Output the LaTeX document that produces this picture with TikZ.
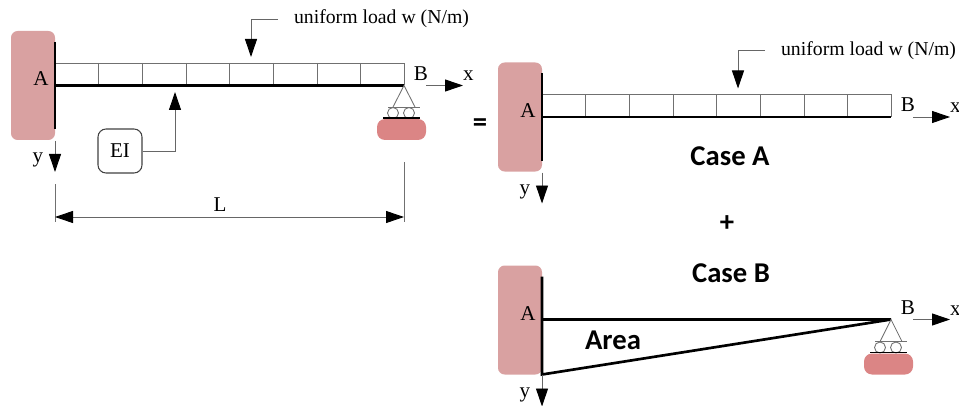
\documentclass[tikz,border=0pt]{standalone}
\usepackage{fontspec}
\setmainfont{Liberation Serif}
\newfontfamily\casefont{Carlito}
\usetikzlibrary{arrows.meta}

\definecolor{wallred}{HTML}{D9A1A1}
\definecolor{padred}{HTML}{DB8585}
\definecolor{linegray}{HTML}{707070}

\tikzset{
  serif/.style={inner sep=0pt, font=\fontsize{14.8}{16}\selectfont},
  letter/.style={inner sep=0pt, font=\fontsize{15.8}{17}\selectfont},
  casetext/.style={inner sep=0pt, font=\casefont\bfseries\fontsize{21.5}{24}\selectfont},
  wall/.style={fill=wallred, rounded corners=5pt},
  pad/.style={fill=padred, rounded corners=6pt},
  thickbar/.style={line width=2pt, black},
  thinbar/.style={line width=0.65pt, linegray},
  bigtip/.tip={Triangle[length=13.5pt,width=9pt,color=black,fill=black]},
  bigarrow/.style={line width=0.7pt, black!60, -{bigtip}},
}

\begin{document}
\begin{tikzpicture}[x=0.75pt, y=-0.75pt]
  \useasboundingbox (0,0) rectangle (959,406);

  % Full beam
  \begin{scope}[shift={(0,0)}]
    \fill[wall] (11,31) rectangle (55,140);
    \fill[pad] (377,119) rectangle (426,140);

    \coordinate (top) at (55,42);
    \coordinate (bot) at (55,129);
    \coordinate (fix) at (55,85.5);
    \coordinate (end) at (404,85.5);
    \coordinate (loadA) at (55,63);
    \coordinate (loadB) at (404,63);

    \node[letter] (a) at (41,79) {A};
    \node[letter] (b) at (421,73.5) {B};
    \node[letter] (x) at (468.5,76) {x};
    \node[letter] (y) at (38,160) {y};
    \node[serif] (w) at (381.5,19) {uniform load w (N/m)};
    \node[letter, draw=black!75, line width=0.8pt, rounded corners=6pt, minimum size=33pt] (ei) at (120,151) {EI};
    \node[letter] (l) at (220,205) {L};

    % load blocks
    \draw[thinbar] (fix) -- (loadA) -- (loadB) -- (end);
    \draw[thinbar] (98,63) -- (98,85) (142,63) -- (142,85) (186,63) -- (186,85) (229,63) -- (229,85);
    \draw[thinbar] (273,63) -- (273,85) (317,63) -- (317,85) (360,63) -- (360,85);

    \draw[thickbar] (top) -- (bot);
    \draw[thickbar] (fix) -- (end);

    % roller
    \coordinate (baseL) at (388,107);
    \coordinate (baseR) at (420,107);
    \draw[thinbar] (baseL) -- (baseR);
    \draw[thinbar] (393,107) -- (end) -- (415,107);
    \draw[thinbar] (393,113) circle (5.5);
    \draw[thinbar] (409,113) circle (5.5);
    \coordinate (gndL) at (383,118);
    \coordinate (gndR) at (420,118);
    \draw[thickbar, line width=1.2pt] (gndL) -- (gndR);

    % arrows
    \coordinate (xA) at (426,85.5);
    \coordinate (xB) at (463,85.5);
    \coordinate (yA) at (55,141);
    \coordinate (yB) at (55,172);
    \coordinate (loadS) at (278,19);
    \coordinate (loadE) at (251,57);
    \coordinate (eiE) at (175,92);
    \draw[bigarrow] (xA) -- (xB);
    \draw[bigarrow] (yA) -- (yB);
    \draw[bigarrow] (loadS) -| (loadE);
    \draw[bigarrow] (ei) -| (eiE);

    % dimension L
    \coordinate (dimA) at (55,184);
    \coordinate (dimB) at (55,222);
    \coordinate (dimC) at (404,162);
    \coordinate (dimD) at (404,222);
    \coordinate (dimL) at (55,217);
    \coordinate (dimR) at (404,217);
    \draw[thinbar] (dimA) -- (dimB);
    \draw[thinbar] (dimC) -- (dimD);
    \draw[bigarrow, {bigtip}-{bigtip}] (dimL) -- (dimR);
  \end{scope}

  \node[casetext] (eq) at (480,125) {=};

  % Case A
  \begin{scope}[shift={(487,31.5)}]
    \fill[wall] (11,31) rectangle (55,140);

    \coordinate (top) at (55,42);
    \coordinate (bot) at (55,129);
    \coordinate (fix) at (55,85.5);
    \coordinate (end) at (404,85.5);
    \coordinate (loadA) at (55,63);
    \coordinate (loadB) at (404,63);

    \node[letter] (a) at (41,79) {A};
    \node[letter] (b) at (421,73.5) {B};
    \node[letter] (x) at (468.5,76) {x};
    \node[letter] (y) at (38,160) {y};
    \node[serif] (w) at (381.5,19) {uniform load w (N/m)};

    \draw[thinbar] (fix) -- (loadA) -- (loadB) -- (end);
    \draw[thinbar] (98,63) -- (98,85) (142,63) -- (142,85) (186,63) -- (186,85) (229,63) -- (229,85);
    \draw[thinbar] (273,63) -- (273,85) (317,63) -- (317,85) (360,63) -- (360,85);

    \draw[thickbar] (top) -- (bot);
    \draw[thickbar] (fix) -- (end);

    \coordinate (xA) at (426,85.5);
    \coordinate (xB) at (463,85.5);
    \coordinate (yA) at (55,141);
    \coordinate (yB) at (55,172);
    \coordinate (loadS) at (278,19);
    \coordinate (loadE) at (251,57);
    \draw[bigarrow] (xA) -- (xB);
    \draw[bigarrow] (yA) -- (yB);
    \draw[bigarrow] (loadS) -| (loadE);
  \end{scope}

  \node[casetext] (casea) at (730,156) {Case A};
  \node[casetext] (plus) at (727,224) {+};
  \node[casetext] (caseb) at (731,273) {Case B};

  % Case B
  \begin{scope}[shift={(487,234.5)}]
    \fill[wall] (11,31) rectangle (55,140);
    \fill[pad] (377,119) rectangle (426,140);

    \coordinate (top) at (55,42);
    \coordinate (bot) at (55,140);
    \coordinate (fix) at (55,85);
    \coordinate (end) at (404,85);

    \node[letter] (a) at (41,79) {A};
    \node[letter] (b) at (421,73.5) {B};
    \node[letter] (x) at (468.5,76) {x};
    \node[letter] (y) at (38,160) {y};
    \node[casetext] (area) at (126,105.5) {Area};

    \draw[thickbar] (top) -- (bot) -- (end) -- (fix);

    \coordinate (baseL) at (388,107);
    \coordinate (baseR) at (420,107);
    \draw[thinbar] (baseL) -- (baseR);
    \draw[thinbar] (393,107) -- (end) -- (415,107);
    \draw[thinbar] (393,113) circle (5.5);
    \draw[thinbar] (409,113) circle (5.5);
    \coordinate (gndL) at (383,118);
    \coordinate (gndR) at (420,118);
    \draw[thickbar, line width=1.2pt] (gndL) -- (gndR);

    \coordinate (xA) at (426,85);
    \coordinate (xB) at (463,85);
    \coordinate (yA) at (55,140);
    \coordinate (yB) at (55,172);
    \draw[bigarrow] (xA) -- (xB);
    \draw[bigarrow] (yA) -- (yB);
  \end{scope}
\end{tikzpicture}
\end{document}
